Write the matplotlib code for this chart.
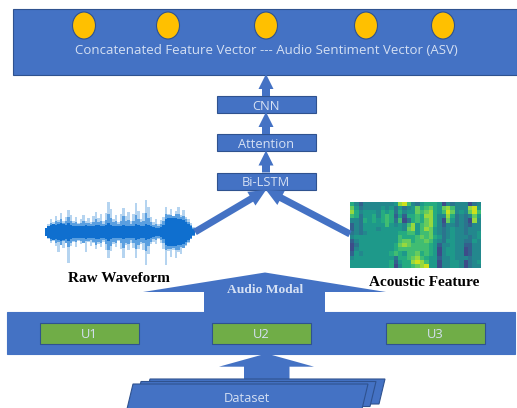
import matplotlib
matplotlib.use("Agg")
import matplotlib.pyplot as plt
from matplotlib.patches import Ellipse, FancyArrow, Polygon, Rectangle
import numpy as np


BLUE = "#4472c4"
EDGE = "#2f528f"
TEXT = "#d5e0f3"
UI_FONT = ["Open Sans", "DejaVu Sans"]

# waveform, amplitude in pixels above / below the centre line
wave_upper = [4, 8, 13, 10, 16, 12, 19, 11, 15, 22, 17, 11, 15, 9, 13, 17, 11, 14, 10, 16,
              20, 14, 18, 11, 19, 30, 23, 13, 17, 10, 18, 24, 16, 20, 11, 18, 29, 21, 13, 19,
              32, 25, 15, 10, 13, 8, 12, 15, 25, 18, 23, 16, 21, 25, 17, 22, 15, 13, 9, 5]
wave_lower = [3, 7, 11, 9, 14, 20, 12, 16, 11, 31, 14, 10, 15, 9, 12, 11, 20, 10, 14, 11,
              17, 12, 15, 10, 18, 26, 19, 12, 15, 9, 17, 26, 13, 18, 11, 16, 26, 17, 12, 18,
              33, 22, 12, 10, 12, 7, 11, 17, 33, 19, 25, 18, 26, 20, 22, 16, 14, 11, 7, 4]
wave_mid = [4, 6, 9, 8, 11, 10, 13, 9, 11, 15, 11, 9, 10, 8, 9, 11, 9, 9, 8, 10,
            13, 10, 11, 8, 12, 18, 14, 10, 11, 8, 11, 16, 11, 12, 8, 11, 17, 13, 10, 11,
            19, 14, 10, 7, 8, 6, 8, 11, 18, 17, 17, 16, 18, 18, 15, 16, 13, 10, 7, 4]
wave_core = [4, 6, 7, 8, 7, 8, 9, 8, 7, 9, 7, 6, 6, 6, 6, 6, 7, 6, 6, 6,
             7, 7, 6, 6, 7, 9, 7, 6, 6, 6, 6, 7, 6, 6, 6, 6, 8, 7, 6, 6,
             8, 7, 6, 5, 4, 4, 5, 7, 13, 14, 14, 14, 14, 13, 13, 12, 10, 8, 6, 3]

# acoustic feature map, one digit per cell
feature_rows = [
    "531333333348963245554032333023",
    "742333343424234756754786333894",
    "853444354525344767854697343796",
    "652445356514155658853385232374",
    "332545456526025657853074232083",
    "132444446434368467853133232133",
    "132444344444378468743234332333",
    "232344444445566466743234332334",
    "344444444446555676754234333234",
    "134444444446775667643244332243",
    "024444444457876666541334331133",
    "034444444456666666540344330133",
    "143444444565466756540344330133",
    "344444444425567865441334333233",
    "444444444514558986440334430234",
    "444444444503556789440334430233",
]

circle_x = [84, 168, 266, 366, 443]
layer_names = ["CNN", "Attention", "Bi-LSTM"]
layer_tops = [96, 134, 172.5]
unit_names = ["U1", "U2", "U3"]
unit_lefts = [39.5, 211.5, 385.5]

fig = plt.figure(figsize=(5.17, 4.08), dpi=100)
ax = fig.add_axes([0, 0, 1, 1])


def box(x0, y0, x1, y1, face=BLUE, edge=EDGE, lw=0.8, z=2):
    ax.add_patch(Rectangle((x0, y0), x1 - x0, y1 - y0, facecolor=face,
                           edgecolor=edge, linewidth=lw, zorder=z))


def arrow(x0, y0, x1, y1, width, head_width, head_length, z=3):
    ax.add_patch(FancyArrow(x0, y0, x1 - x0, y1 - y0, width=width,
                            head_width=head_width, head_length=head_length,
                            length_includes_head=True, color=BLUE, linewidth=0, zorder=z))


# top vector box
box(13, 8.5, 516.5, 74.5)
for x in circle_x:
    ax.add_patch(Ellipse((x, 25.5), 23, 27, facecolor="#ffc000", edgecolor=EDGE,
                         linewidth=0.8, zorder=3))
ax.text(266, 51, "Concatenated Feature Vector --- Audio Sentiment Vector (ASV)",
        color=TEXT, fontsize=9.5, ha="center", va="center", family=UI_FONT, zorder=4)

# stacked layers
for name, top in zip(layer_names, layer_tops):
    box(216.5, top, 316, top + 17)
    ax.text(266, top + 10, name, color=TEXT, fontsize=9.3, ha="center", va="center",
            family=UI_FONT, zorder=4)
    arrow(266, top, 266, top - 22, 8, 15, 15)

# diagonal arrows into Bi-LSTM
arrow(195, 232, 266, 190, 7, 16, 17)
arrow(350, 234, 266, 190, 7, 16, 17)

# waveform, lightest layer first
wave_x = 46 + 2.5 * np.arange(len(wave_upper))
wave_y = 232
upper = np.array(wave_upper)
lower = np.array(wave_lower)
mid = np.array(wave_mid)
core = np.array(wave_core)
ax.bar(wave_x, upper + lower, width=2.5, bottom=wave_y - upper, color="#b5d4f0",
       linewidth=0, zorder=2)
ax.bar(wave_x, 2 * mid, width=2.5, bottom=wave_y - mid, color="#5a9fe0",
       linewidth=0, zorder=2)
ax.bar(wave_x, 2 * core, width=2.6, bottom=wave_y - core, color="#0f6fcf",
       linewidth=0, zorder=2)

# feature map
cells = np.array([[int(c) for c in row] for row in feature_rows])
ax.imshow(cells, cmap="viridis", vmin=-3, vmax=10, extent=(350, 481, 268, 202),
          aspect="auto", interpolation="nearest", zorder=2)

ax.text(119, 279, "Raw Waveform", family="Liberation Serif", weight="bold", fontsize=11,
        ha="center", va="center", color="black", zorder=5)
ax.text(424, 282, "Acoustic Feature", family="Liberation Serif", weight="bold", fontsize=11,
        ha="center", va="center", color="black", zorder=5)

# audio modal arrow
ax.add_patch(Polygon([(265, 272.5), (386, 292), (325, 292), (325, 312), (204, 312),
                      (204, 292), (143, 292)], closed=True, color=BLUE, linewidth=0, zorder=2))
ax.text(265, 290, "Audio Modal", family="Liberation Serif", weight="bold", fontsize=9.7,
        ha="center", va="center", color=TEXT, zorder=5)

# utterance band
box(7, 311.5, 515, 353.5, edge=BLUE)
for name, left in zip(unit_names, unit_lefts):
    box(left, 323, left + 99.5, 344, face="#70ad47", z=3)
    ax.text(left + 49.5, 335, name, color=TEXT, fontsize=9.3, ha="center", va="center",
            family=UI_FONT, zorder=4)

# dataset stack and its arrow
ax.add_patch(Polygon([(266.5, 353.5), (314, 366.7), (289.5, 366.7), (289.5, 381), (244, 381),
                      (244, 366.7), (219, 366.7)], closed=True, color=BLUE, linewidth=0, zorder=2))
for dx, dy in [(17, -5), (8, -2.5), (0, 0)]:
    ax.add_patch(Polygon([(133 + dx, 384 + dy), (368 + dx, 384 + dy), (362 + dx, 409 + dy),
                          (127 + dx, 409 + dy)], closed=True, facecolor=BLUE,
                         edgecolor=EDGE, linewidth=0.8, zorder=3))
ax.text(247, 399, "Dataset", color=TEXT, fontsize=9.3, ha="center", va="center",
        family=UI_FONT, zorder=4)

ax.set_xlim(0, 517)
ax.set_ylim(408, 0)
ax.axis("off")

fig.savefig("out.png", dpi=100)
